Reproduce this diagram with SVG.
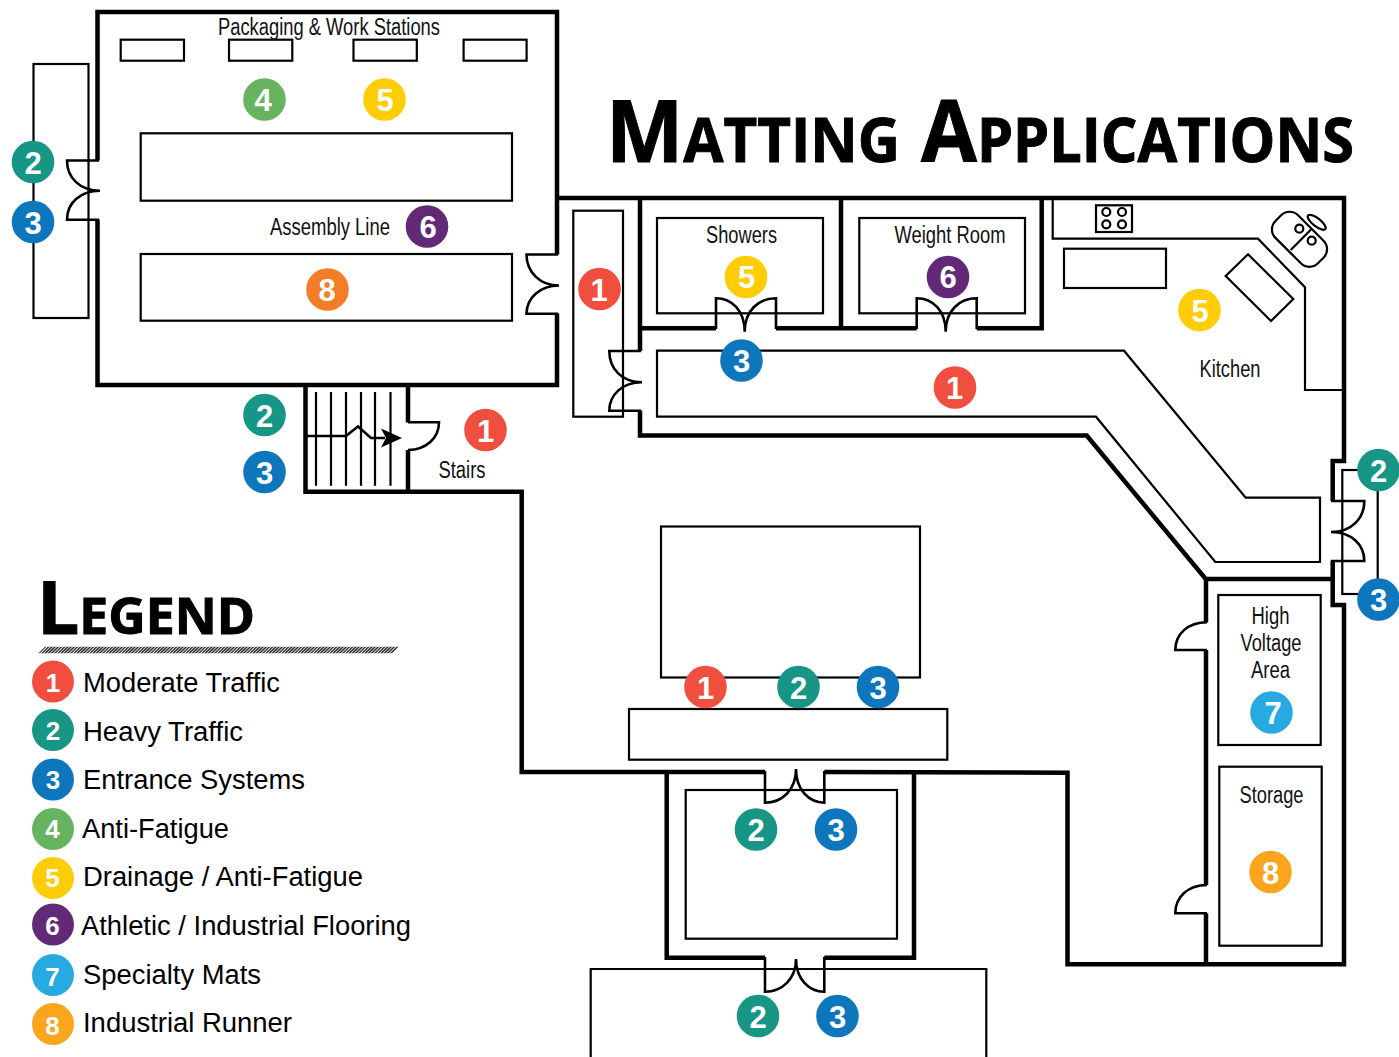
<svg xmlns="http://www.w3.org/2000/svg" width="1399" height="1057" viewBox="0 0 1399 1057">
<style>
.wall{fill:none;stroke:#000;stroke-width:4.5;stroke-linejoin:miter}
.thin{fill:none;stroke:#000;stroke-width:2.2}
.door{fill:none;stroke:#000;stroke-width:2.6}
.lbl{font-family:"Liberation Sans",Arial,sans-serif;font-size:23px;fill:#111;text-anchor:middle}
.leg{font-family:"Liberation Sans",Arial,sans-serif;font-size:27px;fill:#000}
.num{font-family:"Liberation Sans",Arial,sans-serif;font-size:31px;font-weight:bold;fill:#fff;text-anchor:middle}
.lnum{font-family:"Liberation Sans",Arial,sans-serif;font-size:26px;font-weight:bold;fill:#fff;text-anchor:middle}
.ttl{font-family:"Open Sans","Noto Sans",sans-serif;font-weight:bold;fill:#000;stroke:#000;stroke-width:1}
.c1{fill:#f04e3e}.c2{fill:#179685}.c3{fill:#0e76bc}.c4{fill:#68b360}.c5{fill:#ffcd05}.c6{fill:#622a76}.c7{fill:#27aae1}.c8{fill:#f47d28}.c9{fill:#fba41e}
</style>
<defs>
<pattern id="hatch" width="3.2" height="8" patternUnits="userSpaceOnUse" patternTransform="skewX(-45)"><rect width="2" height="8" fill="#222"/></pattern>
</defs>
<g id="fixtures">
<rect class="thin" x="33.5" y="64" width="55" height="254"/>
<rect class="thin" x="120.7" y="39.7" width="63.3" height="21"/>
<rect class="thin" x="229" y="39.7" width="63.3" height="21"/>
<rect class="thin" x="353.5" y="39.7" width="63.3" height="21"/>
<rect class="thin" x="463.6" y="39.7" width="63" height="21"/>
<rect class="thin" x="140.7" y="133.3" width="371.3" height="67.4"/>
<rect class="thin" x="140.7" y="254" width="371.3" height="66.7"/>
<rect class="thin" x="573.3" y="210.7" width="49.7" height="206"/>
<rect class="thin" x="657" y="218" width="166" height="95.3"/>
<rect class="thin" x="859.3" y="218" width="165.7" height="95.3"/>
<path class="thin" d="M657,350.7H1124L1245.7,497.7H1320V562H1215.3L1096,416.7H657Z"/>
<path class="thin" d="M1052.7,198V238.7H1258L1305,287.3V390H1344"/>
<rect class="thin" x="1096" y="205.3" width="36" height="26.7"/>
<circle class="thin" cx="1106.3" cy="212" r="4"/><circle class="thin" cx="1122" cy="212" r="4"/>
<circle class="thin" cx="1106.3" cy="224.3" r="4"/><circle class="thin" cx="1122" cy="224.3" r="4"/>
<rect class="thin" x="1064" y="248.7" width="102" height="39.3"/>
<path class="thin" d="M1248,254.3L1293.3,299L1271,321L1225.7,276Z"/>
<rect class="thin" x="-30" y="-16" width="60" height="32" rx="12" transform="translate(1299.5 239.3) rotate(45)"/>
<path class="thin" d="M1290.7,250L1311,229.5"/>
<circle class="thin" cx="1299.3" cy="228.7" r="4"/><circle class="thin" cx="1311.7" cy="240.7" r="4"/>
<ellipse class="thin" cx="1316.7" cy="222.3" rx="11" ry="4" transform="rotate(38 1316.7 222.3)"/>
<rect class="thin" x="1342.3" y="470" width="35.4" height="124"/>
<rect class="thin" x="661" y="526.5" width="259" height="151"/>
<rect class="thin" x="629" y="709" width="318.3" height="50.7"/>
<rect class="thin" x="685.7" y="790" width="211.3" height="148.7"/>
<path class="thin" d="M590.7,1057V969H986.3V1057"/>
<rect class="thin" x="1218.3" y="595" width="102.4" height="150" stroke-width="2.6"/>
<rect class="thin" x="1219.3" y="766.7" width="102.4" height="179" stroke-width="2.6"/>
</g>
<g id="walls">
<path class="wall" d="M97.5,160.5V12H557V254.5"/>
<path class="wall" d="M557,313.5V385H97.5V219.5"/>
<path class="wall" d="M305.5,385V491.7H408V450"/>
<path class="wall" d="M408,385V422.5"/>
<path class="wall" d="M408,491.7H521.7V772H765"/>
<path class="wall" d="M824.3,772L1067.5,772.7V964.3H1344V605H1332.7V560.5"/>
<path class="wall" d="M1332.7,501V461H1344V198H555"/>
<path class="wall" d="M666.7,772V957.7H765"/>
<path class="wall" d="M824.3,957.7H914V772"/>
<path class="wall" d="M640,198V351"/>
<path class="wall" d="M640,410.5V435.5H1086.7L1205.7,579H1333"/>
<path class="wall" d="M640,328.3H716"/>
<path class="wall" d="M776,328.3H916.7"/>
<path class="wall" d="M976.7,328.3H1041.7V198"/>
<path class="wall" d="M841,198V328.3"/>
<path class="wall" d="M1206,579V622.5"/>
<path class="wall" d="M1206,650V885"/>
<path class="wall" d="M1206,913.3V964.3"/>
</g>
<g id="doors">
<path class="door" d="M99,160.5H67C67,178 80,190.7 100,190.7C80,190.7 67,203 67,219.8H99"/>
<path class="door" d="M558,254.5H526.5C526.5,272 540,285.5 559,285.5C540,285.5 526.5,298 526.5,313.8H558"/>
<path class="door" d="M641,351H609.3C609.3,369 622,382.3 642,382.3C622,382.3 609.3,395 609.3,410.7H641"/>
<path class="door" d="M716,329V298.3C732,298.3 744.7,311 744.7,331.7C744.7,311 758,298.3 776,298.3V329"/>
<path class="door" d="M916.7,329V298.3C933,298.3 945.7,311 945.7,331.7C945.7,311 959,298.3 976.7,298.3V329"/>
<path class="door" d="M1331,501H1364.3C1364.3,518 1352,532 1331,532C1352,532 1364.3,545 1364.3,561H1331"/>
<path class="door" d="M765,771V802.7C782,802.7 796,790 796,769C796,790 809,802.7 824.3,802.7V771"/>
<path class="door" d="M765,957V991.7C782,991.7 796,979 796,959C796,979 809,991.7 824.3,991.7V957"/>
<path class="door" d="M1207,650H1175.3C1175.3,634 1188,622.3 1207,622.3"/>
<path class="door" d="M1207,913.3H1175.3C1175.3,897 1188,885 1207,885"/>
<path class="door" d="M408,422.3H439C439,438 426,450 408,450"/>
</g>
<g id="stairs">
<path class="thin" d="M316,392V485.7M331,392V485.7M346,392V485.7M361,392V485.7M375,392V485.7M390.5,392V485.7"/>
<path class="door" d="M306,436H346L358,426.5L371,438H385" stroke-width="2.2"/>
<path d="M402,438L381,428.5L386,438L381,447.5Z" fill="#000"/>
</g>
<g id="labels">
<text class="lbl" x="329" y="35" textLength="222" lengthAdjust="spacingAndGlyphs">Packaging &amp; Work Stations</text>
<text class="lbl" x="330" y="235" textLength="120" lengthAdjust="spacingAndGlyphs">Assembly Line</text>
<text class="lbl" x="462" y="478" textLength="47" lengthAdjust="spacingAndGlyphs">Stairs</text>
<text class="lbl" x="741.5" y="243" textLength="71" lengthAdjust="spacingAndGlyphs">Showers</text>
<text class="lbl" x="950" y="243" textLength="111" lengthAdjust="spacingAndGlyphs">Weight Room</text>
<text class="lbl" x="1230" y="377" textLength="61" lengthAdjust="spacingAndGlyphs">Kitchen</text>
<text class="lbl" x="1270.5" y="624" textLength="38" lengthAdjust="spacingAndGlyphs">High</text>
<text class="lbl" x="1271" y="651" textLength="61" lengthAdjust="spacingAndGlyphs">Voltage</text>
<text class="lbl" x="1270.5" y="678" textLength="39" lengthAdjust="spacingAndGlyphs">Area</text>
<text class="lbl" x="1271.5" y="803" textLength="64" lengthAdjust="spacingAndGlyphs">Storage</text>
</g>
<g id="title">
<text class="ttl" x="606" y="161.7" textLength="294" lengthAdjust="spacingAndGlyphs" font-size="61.5"><tspan font-size="86.5">M</tspan>ATTING</text>
<text class="ttl" x="921" y="161.7" textLength="433" lengthAdjust="spacingAndGlyphs" font-size="61.5"><tspan font-size="86.5">A</tspan>PPLICATIONS</text>
</g>
<g id="legend">
<text class="ttl" x="37" y="634" textLength="218" lengthAdjust="spacingAndGlyphs" font-size="51"><tspan font-size="74">L</tspan>EGEND</text>
<path d="M38.5,653.3L45,646.7H399.5L393,653.3Z" fill="url(#hatch)"/>
<g id="legend-1"><circle class="c1" cx="53" cy="681.5" r="21"/><text class="lnum" x="53" y="691.5">1</text><text class="leg" x="83" y="692" textLength="197" lengthAdjust="spacingAndGlyphs">Moderate Traffic</text></g>
<g id="legend-2"><circle class="c2" cx="53" cy="730" r="21"/><text class="lnum" x="53" y="740">2</text><text class="leg" x="83" y="741" textLength="160" lengthAdjust="spacingAndGlyphs">Heavy Traffic</text></g>
<g id="legend-3"><circle class="c3" cx="53" cy="779.5" r="21"/><text class="lnum" x="53" y="789">3</text><text class="leg" x="83" y="789" textLength="222" lengthAdjust="spacingAndGlyphs">Entrance Systems</text></g>
<g id="legend-4"><circle class="c4" cx="53" cy="829" r="21"/><text class="lnum" x="52.5" y="838">4</text><text class="leg" x="82" y="838" textLength="147" lengthAdjust="spacingAndGlyphs">Anti-Fatigue</text></g>
<g id="legend-5"><circle class="c5" cx="53" cy="878" r="21"/><text class="lnum" x="52.5" y="887">5</text><text class="leg" x="83" y="886" textLength="280" lengthAdjust="spacingAndGlyphs">Drainage / Anti-Fatigue</text></g>
<g id="legend-6"><circle class="c6" cx="53" cy="924.5" r="21"/><text class="lnum" x="52.5" y="934.5" font-weight="normal">6</text><text class="leg" x="81" y="934.5" textLength="330" lengthAdjust="spacingAndGlyphs">Athletic / Industrial Flooring</text></g>
<g id="legend-7"><circle class="c7" cx="53" cy="975" r="21"/><text class="lnum" x="52.5" y="986">7</text><text class="leg" x="83" y="983.5" textLength="178" lengthAdjust="spacingAndGlyphs">Specialty Mats</text></g>
<g id="legend-8"><circle class="c9" cx="53" cy="1024" r="21"/><text class="lnum" x="52.5" y="1034.5">8</text><text class="leg" x="83" y="1032" textLength="209" lengthAdjust="spacingAndGlyphs">Industrial Runner</text></g>
</g>
<g id="badges">
<g><circle class="c4" cx="264.5" cy="99.5" r="21.3"/><text class="num" x="263" y="111">4</text></g>
<g><circle class="c5" cx="384.5" cy="99.5" r="21.3"/><text class="num" x="385" y="111">5</text></g>
<g><circle class="c2" cx="33" cy="162" r="21.3"/><text class="num" x="33" y="173.5">2</text></g>
<g><circle class="c3" cx="33" cy="222" r="21.3"/><text class="num" x="33" y="233.5">3</text></g>
<g><circle class="c6" cx="427" cy="226.5" r="21.3"/><text class="num" x="428" y="238">6</text></g>
<g><circle class="c8" cx="327.5" cy="289.5" r="21.3"/><text class="num" x="327" y="301">8</text></g>
<g><circle class="c2" cx="264.5" cy="415" r="21.3"/><text class="num" x="264.5" y="426.5">2</text></g>
<g><circle class="c3" cx="264.5" cy="472" r="21.3"/><text class="num" x="264.5" y="483.5">3</text></g>
<g><circle class="c1" cx="485.5" cy="430" r="21.3"/><text class="num" x="485.5" y="441.5">1</text></g>
<g><circle class="c1" cx="599.5" cy="289" r="21.3"/><text class="num" x="599" y="301">1</text></g>
<g><circle class="c5" cx="746" cy="277" r="21.3"/><text class="num" x="746.5" y="288">5</text></g>
<g><circle class="c6" cx="948" cy="277" r="21.3"/><text class="num" x="948" y="288">6</text></g>
<g><circle class="c3" cx="741.5" cy="360.5" r="21.3"/><text class="num" x="741.5" y="372">3</text></g>
<g><circle class="c1" cx="955" cy="387.5" r="21.3"/><text class="num" x="954.5" y="399">1</text></g>
<g><circle class="c5" cx="1199.5" cy="310" r="21.3"/><text class="num" x="1200" y="321.5">5</text></g>
<g><circle class="c2" cx="1378.5" cy="470" r="21.3"/><text class="num" x="1378.5" y="481.5">2</text></g>
<g><circle class="c3" cx="1378.5" cy="599.5" r="21.3"/><text class="num" x="1378.5" y="611">3</text></g>
<g><circle class="c7" cx="1271.5" cy="712.5" r="21.3"/><text class="num" x="1273" y="724">7</text></g>
<g><circle class="c9" cx="1270.5" cy="872" r="21.3"/><text class="num" x="1270.5" y="883.5">8</text></g>
<g><circle class="c1" cx="705.5" cy="687" r="21.3"/><text class="num" x="705.5" y="698.5">1</text></g>
<g><circle class="c2" cx="798.5" cy="687" r="21.3"/><text class="num" x="798.5" y="698.5">2</text></g>
<g><circle class="c3" cx="878" cy="687" r="21.3"/><text class="num" x="878" y="698.5">3</text></g>
<g><circle class="c2" cx="756" cy="829.5" r="21.3"/><text class="num" x="756" y="841">2</text></g>
<g><circle class="c3" cx="836" cy="829.5" r="21.3"/><text class="num" x="836" y="841">3</text></g>
<g><circle class="c2" cx="758" cy="1016" r="21.3"/><text class="num" x="758" y="1027.5">2</text></g>
<g><circle class="c3" cx="837.5" cy="1016" r="21.3"/><text class="num" x="837.5" y="1027.5">3</text></g>
</g>
</svg>
